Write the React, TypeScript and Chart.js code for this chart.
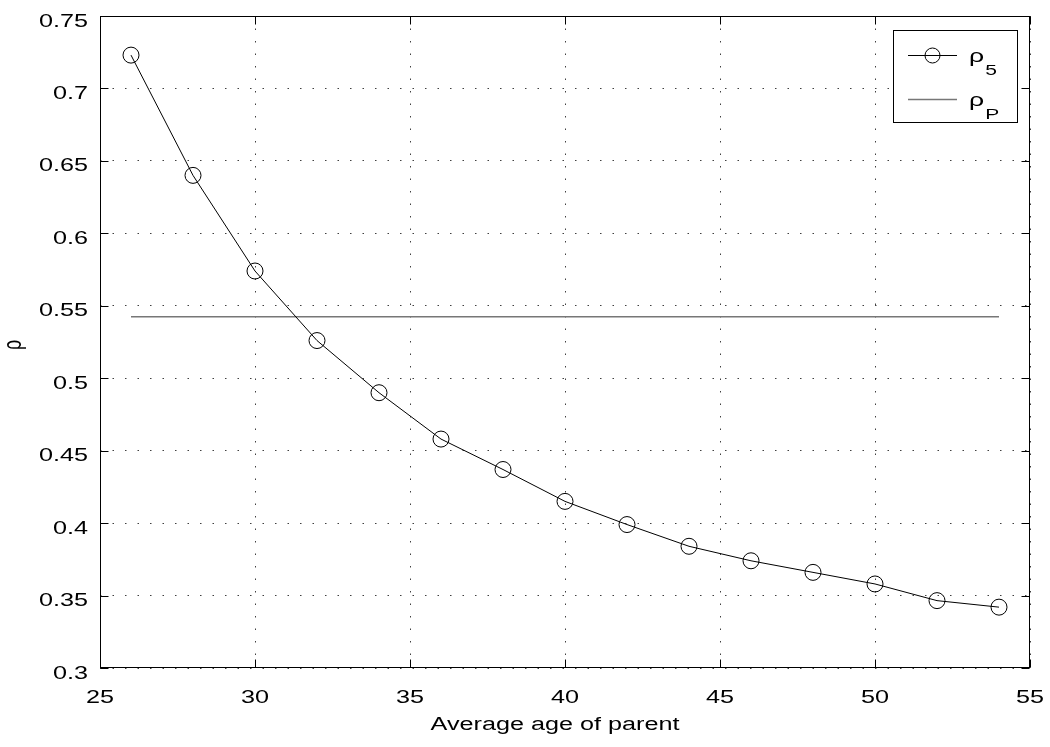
import React, { useEffect, useRef } from 'react';
import { Chart, registerables } from 'chart.js';

Chart.register(...registerables);

// ---- data ----
const xValues = [26, 28, 30, 32, 34, 36, 38, 40, 42, 44, 46, 48, 50, 52, 54];
const rho5Values = [0.723, 0.640, 0.574, 0.526, 0.490, 0.458, 0.437, 0.415, 0.399, 0.384, 0.374, 0.366, 0.358, 0.3465, 0.342];
const rhoPX = [26, 54];
const rhoPValues = [0.5425, 0.5425];
const xTickValues = [25, 30, 35, 40, 45, 50, 55];
const xTickLabels = ['25', '30', '35', '40', '45', '50', '55'];
const yTickValues = [0.3, 0.35, 0.4, 0.45, 0.5, 0.55, 0.6, 0.65, 0.7, 0.75];
const yTickLabels = ['0.3', '0.35', '0.4', '0.45', '0.5', '0.55', '0.6', '0.65', '0.7', '0.75'];
const legendMain = ['ρ', 'ρ'];
const legendSub = ['5', 'P'];
const xTitle = 'Average age of parent';
const yTitle = 'ρ';

const FONT = '"Liberation Sans", Arial, Helvetica, sans-serif';
const SX = 1.4; // horizontal text stretch seen in the reference

function drawText(ctx: CanvasRenderingContext2D, text: string, x: number, y: number, align: CanvasTextAlign, size: number) {
  ctx.save();
  ctx.font = `${size}px ${FONT}`;
  ctx.translate(x, y);
  ctx.scale(SX, 1);
  ctx.textAlign = align;
  ctx.textBaseline = 'alphabetic';
  ctx.fillStyle = '#000';
  ctx.fillText(text, 0, 0);
  ctx.restore();
}

const framePlugin = {
  id: 'framePlugin',
  afterDraw(chart: any) {
    const { ctx, chartArea: a, scales } = chart;
    const xs = scales.x;
    const ys = scales.y;
    const L = Math.round(a.left) + 0.5;
    const R = Math.round(a.right) - 0.5;
    const T = Math.round(a.top) + 0.5;
    const B = Math.round(a.bottom) - 0.5;
    ctx.save();
    ctx.setLineDash([]);
    ctx.strokeStyle = '#000';
    ctx.lineWidth = 1;
    ctx.strokeRect(L, T, R - L, B - T);
    const tl = 8;
    ctx.beginPath();
    yTickValues.forEach((v) => {
      const py = Math.round(ys.getPixelForValue(v)) + 0.5;
      ctx.moveTo(L, py); ctx.lineTo(L + tl, py);
      ctx.moveTo(R, py); ctx.lineTo(R - tl, py);
    });
    xTickValues.forEach((v) => {
      const px = Math.round(xs.getPixelForValue(v)) + 0.5;
      ctx.moveTo(px, B); ctx.lineTo(px, B - tl);
      ctx.moveTo(px, T); ctx.lineTo(px, T + tl);
    });
    ctx.stroke();

    // tick labels
    yTickValues.forEach((v, i) => {
      const py = ys.getPixelForValue(v);
      drawText(ctx, yTickLabels[i], a.left - 12, py + 10.5, 'right', 18);
    });
    xTickValues.forEach((v, i) => {
      const px = xs.getPixelForValue(v);
      drawText(ctx, xTickLabels[i], px, a.bottom + 35, 'center', 18);
    });
    // axis titles
    drawText(ctx, xTitle, (a.left + a.right) / 2 - 10, a.bottom + 62, 'center', 18);
    ctx.save();
    ctx.font = `18px ${FONT}`;
    ctx.translate(21, (a.top + a.bottom) / 2 + 3);
    ctx.scale(SX, 1);
    ctx.rotate(-Math.PI / 2);
    ctx.textAlign = 'center';
    ctx.textBaseline = 'alphabetic';
    ctx.fillStyle = '#000';
    ctx.fillText(yTitle, 0, 0);
    ctx.restore();

    // legend
    const bx = 893.5, by = 30.5, bw = 124, bh = 92;
    ctx.fillStyle = '#fff';
    ctx.fillRect(bx, by, bw, bh);
    ctx.strokeStyle = '#000';
    ctx.strokeRect(bx, by, bw, bh);
    const rows = [55, 99];
    const colors = ['#000', '#777'];
    rows.forEach((ry, i) => {
      ctx.beginPath();
      ctx.strokeStyle = colors[i];
      ctx.lineWidth = i === 0 ? 1 : 1.5;
      ctx.moveTo(908, ry + 0.5);
      ctx.lineTo(957, ry + 0.5);
      ctx.stroke();
      if (i === 0) {
        ctx.beginPath();
        ctx.strokeStyle = '#000';
        ctx.lineWidth = 1;
        ctx.arc(932.5, ry + 0.5, 7.5, 0, Math.PI * 2);
        ctx.stroke();
      }
      drawText(ctx, legendMain[i], 969, ry + 7, 'left', 19);
      ctx.font = `19px ${FONT}`;
      const w = ctx.measureText(legendMain[i]).width * SX;
      drawText(ctx, legendSub[i], 969 + w + 1, ry + 20, 'left', 15);
    });
    ctx.restore();
  },
};

export default function App() {
  const ref = useRef<HTMLCanvasElement>(null);
  useEffect(() => {
    const prevMargin = document.body.style.margin;
    document.body.style.margin = '0';
    const chart = new Chart(ref.current as HTMLCanvasElement, {
      type: 'line',
      data: {
        datasets: [
          {
            label: 'rho5',
            data: xValues.map((x, i) => ({ x, y: rho5Values[i] })),
            borderColor: '#000',
            borderWidth: 1,
            pointRadius: 8,
            pointHoverRadius: 8,
            pointBorderColor: '#000',
            pointBorderWidth: 1,
            pointBackgroundColor: 'rgba(0,0,0,0)',
            backgroundColor: 'rgba(0,0,0,0)',
            fill: false,
            tension: 0,
          },
          {
            label: 'rhoP',
            data: rhoPX.map((x, i) => ({ x, y: rhoPValues[i] })),
            borderColor: '#777',
            borderWidth: 1.5,
            pointRadius: 0,
            fill: false,
            tension: 0,
          },
        ],
      },
      options: {
        responsive: false,
        animation: false,
        layout: { padding: { left: 0, right: 20, top: 16, bottom: 0 } },
        plugins: {
          legend: { display: false },
          tooltip: { enabled: false },
        },
        scales: {
          x: {
            type: 'linear',
            min: 25,
            max: 55,
            afterBuildTicks: (s: any) => { s.ticks = xTickValues.map((v) => ({ value: v })); },
            afterFit: (s: any) => { s.height = 79; },
            grid: { color: 'rgba(0,0,0,0.75)', lineWidth: 1, drawTicks: false },
            border: { display: false, dash: [1.5, 11] },
            ticks: { display: false },
            title: { display: false },
          },
          y: {
            type: 'linear',
            min: 0.3,
            max: 0.75,
            afterBuildTicks: (s: any) => { s.ticks = yTickValues.map((v) => ({ value: v })); },
            afterFit: (s: any) => { s.width = 100; },
            grid: { color: 'rgba(0,0,0,0.75)', lineWidth: 1, drawTicks: false },
            border: { display: false, dash: [1.5, 11] },
            ticks: { display: false },
            title: { display: false },
          },
        },
      },
      plugins: [framePlugin],
    } as any);
    return () => {
      chart.destroy();
      document.body.style.margin = prevMargin;
    };
  }, []);
  return (
    <div style={{ position: 'absolute', left: 0, top: 0, width: 1050, height: 747, background: '#fff' }}>
      <canvas ref={ref} width={1050} height={747} style={{ display: 'block' }} />
    </div>
  );
}
